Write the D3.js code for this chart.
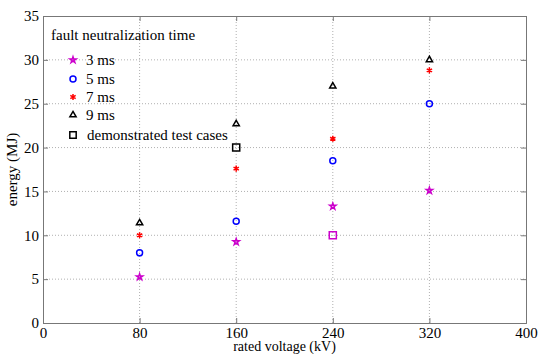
<!DOCTYPE html>
<html>
<head>
<meta charset="utf-8">
<script src="https://cdn.jsdelivr.net/npm/d3@7"></script>
<style>
body { margin:0; background:#fff; }
svg text { font-family: 'Liberation Serif', 'DejaVu Serif', serif !important; fill:#000; }
</style>
</head>
<body>
<div id="chart"></div>
<script>
// data
var voltages = [80, 160, 240, 320];
var series3ms = [5.25, 9.25, 13.3, 15.1];
var series5ms = [8.0, 11.6, 18.5, 25.0];
var series7ms = [10.0, 17.6, 21.0, 28.8];
var series9ms = [11.4, 22.7, 27.0, 30.0];
var testVoltages = [160, 240];
var testEnergy = [20, 10];
var testColors = ['#000000', '#cc00cc'];
var xTicks = [0, 80, 160, 240, 320, 400];
var yTicks = [0, 5, 10, 15, 20, 25, 30, 35];
var legendLabels = ['3 ms', '5 ms', '7 ms', '9 ms', 'demonstrated test cases'];

var W = 538, H = 354;
var margin = {top:16, right:12, bottom:31, left:43};
var width = W - margin.left - margin.right,
    height = H - margin.top - margin.bottom;
var serif = "'Liberation Serif', serif";

var svg = d3.select('#chart').append('svg')
    .attr('width', W).attr('height', H)
    .attr('font-family', serif);

var x = d3.scaleLinear().domain([0, 400]).range([0, width]);
var y = d3.scaleLinear().domain([0, 35]).range([height, 0]);

var g = svg.append('g')
    .attr('transform', 'translate(' + margin.left + ',' + margin.top + ')');

// grid
g.selectAll('.vgrid').data(xTicks.slice(1, -1)).enter().append('line')
    .attr('x1', d => x(d)).attr('x2', d => x(d))
    .attr('y1', 0).attr('y2', height)
    .attr('stroke', '#b0b0b0').attr('stroke-width', 1).attr('stroke-dasharray', '1,2');
g.selectAll('.hgrid').data(yTicks.slice(1, -1)).enter().append('line')
    .attr('y1', d => y(d)).attr('y2', d => y(d))
    .attr('x1', 0).attr('x2', width)
    .attr('stroke', '#b0b0b0').attr('stroke-width', 1).attr('stroke-dasharray', '1,2');

// axes (ticks inward, box)
var frame = '#777';
g.append('g').attr('transform', 'translate(0,' + height + ')')
    .call(d3.axisBottom(x).tickValues(xTicks).tickSize(-5).tickPadding(4));
g.append('g')
    .call(d3.axisLeft(y).tickValues(yTicks).tickSize(-5).tickPadding(4));
g.append('g').call(d3.axisTop(x).tickValues(xTicks).tickSize(-5).tickFormat(''));
g.append('g').attr('transform', 'translate(' + width + ',0)')
    .call(d3.axisRight(y).tickValues(yTicks).tickSize(-5).tickFormat(''));
g.selectAll('g').attr('font-family', serif);
g.selectAll('.domain, .tick line').attr('stroke', frame);
g.selectAll('.tick text').attr('font-size', 15).attr('fill', '#000');

// axis labels
svg.append('text')
    .attr('x', margin.left + x(200)).attr('y', 351)
    .attr('text-anchor', 'middle').attr('font-size', 14)
    .text('rated voltage (kV)');
svg.append('text')
    .attr('transform', 'translate(17,' + (margin.top + y(17.5)) + ') rotate(-90)')
    .attr('text-anchor', 'middle').attr('font-size', 15)
    .text('energy (MJ)');

// markers
var sym = {
    s3: {type: d3.symbolStar, size: 12, color: '#cc00cc'},
    s5: {type: d3.symbolCircle, size: 28, color: '#0000ff'},
    s7: {type: d3.symbolAsterisk, size: 26, color: '#ff0000'},
    s9: {type: d3.symbolTriangle2, size: 28, color: '#000000'}
};
var allSeries = [
    {vals: series3ms, s: sym.s3},
    {vals: series5ms, s: sym.s5},
    {vals: series7ms, s: sym.s7},
    {vals: series9ms, s: sym.s9}
];

allSeries.forEach(function(ser) {
    g.selectAll(null).data(ser.vals).enter().append('path')
        .attr('d', d3.symbol().type(ser.s.type).size(ser.s.size))
        .attr('transform', (d, i) => 'translate(' + x(voltages[i]) + ',' + y(d) + ')')
        .attr('fill', 'none').attr('stroke', ser.s.color).attr('stroke-width', 1.5);
});

g.selectAll(null).data(testEnergy).enter().append('path')
    .attr('d', d3.symbol().type(d3.symbolSquare2).size(64))
    .attr('transform', (d, i) => 'translate(' + x(testVoltages[i]) + ',' + y(d) + ')')
    .attr('fill', 'none').attr('stroke', (d, i) => testColors[i]).attr('stroke-width', 1.5);

// legend
var leg = svg.append('g');
leg.append('text').attr('x', 51).attr('y', 40).attr('font-size', 15)
    .text('fault neutralization time');
var legSyms = [sym.s3, sym.s5, sym.s7, sym.s9,
    {type: d3.symbolSquare2, size: 52, color: '#000000'}];
var rowY = [60, 79, 97, 115, 135];
legSyms.forEach(function(s, i) {
    leg.append('path')
        .attr('d', d3.symbol().type(s.type).size(s.size))
        .attr('transform', 'translate(73,' + rowY[i] + ')')
        .attr('fill', 'none').attr('stroke', s.color).attr('stroke-width', 1.5);
    leg.append('text').attr('x', i === 4 ? 87 : 86).attr('y', rowY[i] + 5)
        .attr('font-size', 15).text(legendLabels[i]);
});
</script>
</body>
</html>
